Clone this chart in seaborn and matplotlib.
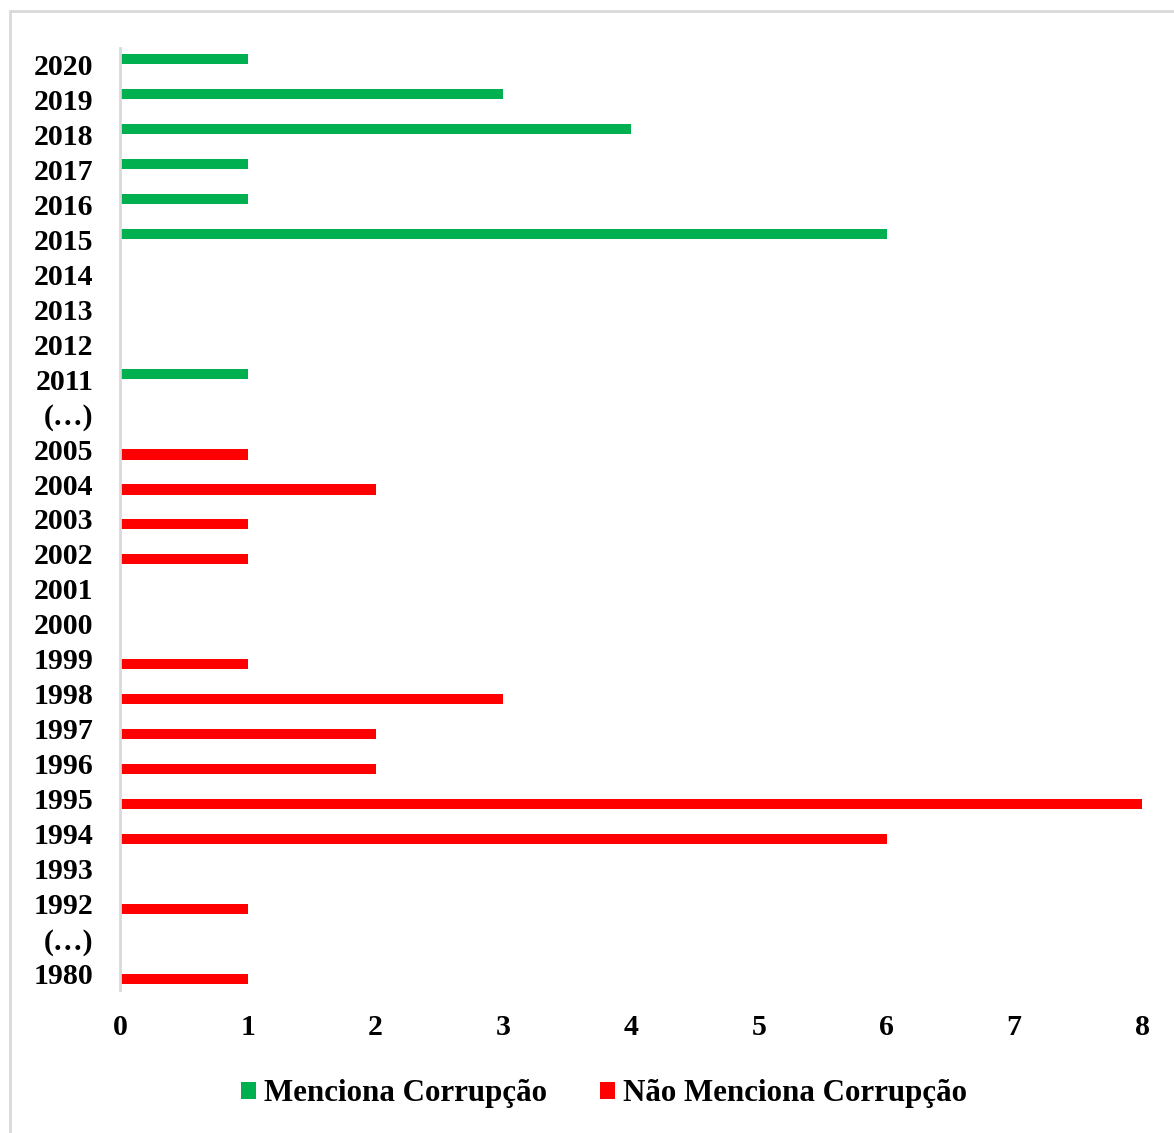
import matplotlib
matplotlib.use("Agg")
import matplotlib.pyplot as plt
import matplotlib.patches as mpatches
import seaborn as sns
import pandas as pd

categories = ["2020", "2019", "2018", "2017", "2016", "2015", "2014", "2013", "2012",
              "2011", "(…)", "2005", "2004", "2003", "2002", "2001", "2000", "1999",
              "1998", "1997", "1996", "1995", "1994", "1993", "1992", "(…)", "1980"]
menciona = [1, 3, 4, 1, 1, 6, 0, 0, 0, 1, 0, 0, 0, 0, 0, 0, 0, 0,
            0, 0, 0, 0, 0, 0, 0, 0, 0]
nao_menciona = [0, 0, 0, 0, 0, 0, 0, 0, 0, 0, 0, 1, 2, 1, 1, 0, 0, 1,
                3, 2, 2, 8, 6, 0, 1, 0, 1]
series_names = ["Menciona Corrupção", "Não Menciona Corrupção"]
colors = ["#00B050", "#FF0000"]
x_ticks = [0, 1, 2, 3, 4, 5, 6, 7, 8]

keys = [f"r{i:02d}" for i in range(len(categories))]
df = pd.DataFrame({
    "key": keys * 2,
    "value": menciona + nao_menciona,
    "serie": [series_names[0]] * len(keys) + [series_names[1]] * len(keys),
})

sns.set_style("white")
plt.rcParams["font.family"] = ["Liberation Serif", "DejaVu Serif"]
plt.rcParams["font.weight"] = "bold"
plt.rcParams["text.color"] = "black"
plt.rcParams["xtick.color"] = "black"
plt.rcParams["ytick.color"] = "black"

fig = plt.figure(figsize=(11.74, 11.33), dpi=100)
ax = fig.add_axes([120 / 1174, 1 - 990 / 1133, (1142 - 120) / 1174, (990 - 48) / 1133])

sns.barplot(data=df, x="value", y="key", hue="serie", order=keys,
            hue_order=series_names, palette=colors, orient="h", saturation=1,
            width=0.6, dodge=True, linewidth=0, ax=ax, legend=False)

ax.set_xlim(0, 8)
ax.set_ylim(len(keys) - 0.54, -0.46)
ax.set_xticks(x_ticks)
ax.set_xticklabels([str(t) for t in x_ticks], fontsize=21.5, fontweight="bold", color="black")
ax.set_yticks(range(len(keys)))
ax.set_yticklabels(categories, fontsize=21.5, fontweight="bold", color="black")
ax.tick_params(axis="y", length=0, pad=19)
ax.tick_params(axis="x", length=0, pad=17)
ax.set_xlabel("")
ax.set_ylabel("")
for s in ["top", "right", "bottom"]:
    ax.spines[s].set_visible(False)
ax.spines["left"].set_color("#d9d9d9")
ax.spines["left"].set_linewidth(2)
ax.grid(False)

handles = [mpatches.Patch(facecolor=c, edgecolor="none", label=n)
           for c, n in zip(colors, series_names)]
leg = fig.legend(handles=handles, loc="center", bbox_to_anchor=(604 / 1174, 1 - 1094 / 1133),
                 ncol=2, frameon=False, prop={"size": 22.3, "weight": "bold"},
                 handlelength=0.5, handleheight=0.5, handletextpad=0.25,
                 columnspacing=1.7, borderpad=0)
for t in leg.get_texts():
    t.set_color("black")

border = mpatches.Rectangle((10 / 1174, -0.05), 1.2, 1 - 11 / 1133 + 0.05,
                            transform=fig.transFigure, fill=False,
                            edgecolor="#d9d9d9", linewidth=2)
fig.add_artist(border)

fig.savefig("out.png", dpi=100)
